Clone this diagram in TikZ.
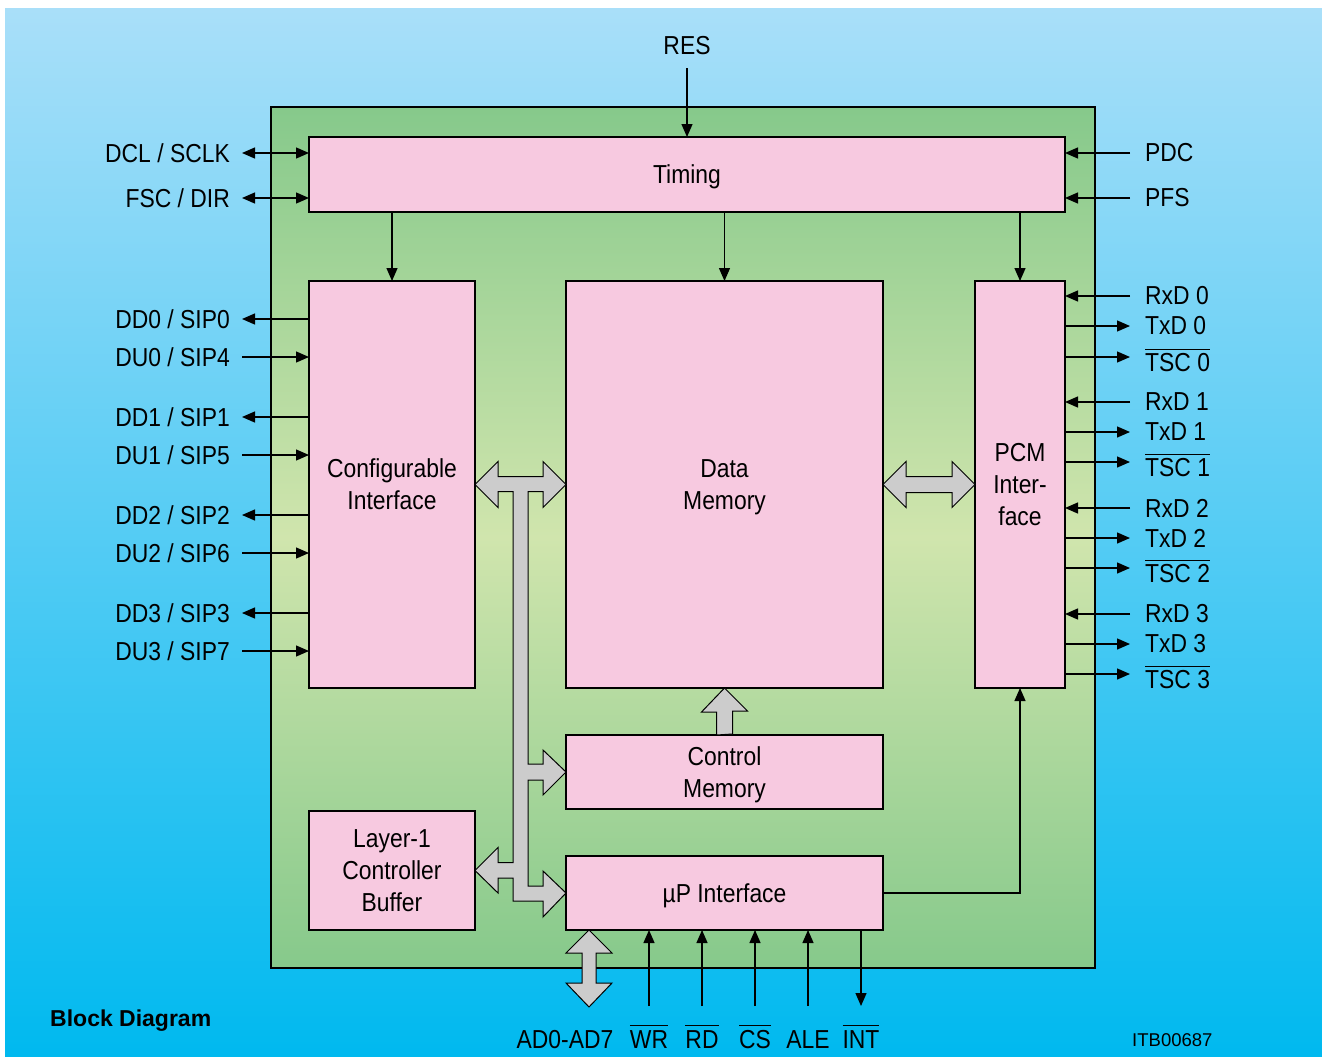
\documentclass[tikz,border=0pt]{standalone}
\usepackage{fontspec}
\setmainfont{Liberation Sans}[FakeStretch=0.88]
\newfontfamily\widesans{Liberation Sans}
\usetikzlibrary{arrows.meta,positioning,calc}
\definecolor{skytop}{HTML}{A9DFF9}
\definecolor{skybot}{HTML}{00B9EF}
\definecolor{chipedge}{HTML}{86C98B}
\definecolor{chipmid}{HTML}{D0E5AD}
\definecolor{blkpink}{HTML}{F7C9E0}
\definecolor{busgray}{HTML}{CCCCCC}
\newcommand{\ovl}[1]{\vbox{\hrule height 1.2pt\kern 4pt\hbox{#1}}}
\newcommand{\tscstrut}{\rule{0pt}{30pt}}

\begin{document}
\begin{tikzpicture}[x=1pt, y=-1pt,
    blk/.style={draw, line width=2.6pt, fill=blkpink, align=center, inner sep=0pt, outer sep=0pt, text depth=0pt},
    sig/.style={inner sep=0pt},
    arr/.style={-{Triangle[length=13pt,width=11pt]}, line width=1.3pt},
    biarr/.style={{Triangle[length=13pt,width=11pt]}-{Triangle[length=13pt,width=11pt]}, line width=1.3pt},
    bus/.style={draw, line width=1pt, fill=busgray, line join=miter},
    font=\fontsize{26}{32}\selectfont
]
\useasboundingbox (0,0) rectangle (1322,1057);
\fill[white] (0,0) rectangle (1322,1057);
\shade[top color=skytop, bottom color=skybot] (5,9) rectangle (1322,1057);

% chip
\node[draw, line width=2.6pt, outer sep=0pt, minimum width=824pt, minimum height=861pt,
  top color=chipedge, bottom color=chipedge, middle color=chipmid] (chip) at (683,537.5) {};

% blocks
\node[blk, minimum width=756, minimum height=75] (timing) at (687,174.5) {Timing};
\node[blk, minimum width=166, minimum height=407] (cfg) at (392,484.5) {Configurable\\Interface};
\node[blk, minimum width=317, minimum height=407] (dmem) at (724.5,484.5) {Data\\Memory};
\node[blk, minimum width=90, minimum height=407] (pcm) at (1020,484.5) {PCM\\Inter-\\face};
\node[blk, minimum width=317, minimum height=74] (cmem) at (724.5,772) {Control\\Memory};
\node[blk, minimum width=166, minimum height=119] (lbuf) at (392,870.5) {Layer-1\\Controller\\Buffer};
\node[blk, minimum width=317, minimum height=74] (upif) at (724.5,893) {µP Interface};

% timing signals
\node[sig, anchor=base] (res) at (687,55) {RES};
\node[sig, anchor=east] (dcl) at (230,153) {DCL / SCLK};
\node[sig, anchor=east] (fsc) at (230,198) {FSC / DIR};
\node[sig, anchor=west] (pdc) at (1145,153) {PDC};
\node[sig, anchor=west] (pfs) at (1145,198) {PFS};

\draw[arr] ([yshift=-13pt]res.south) -- (timing.north);
\draw[biarr] ([xshift=12pt]dcl.east) -- (timing.west |- dcl.east);
\draw[biarr] ([xshift=12pt]fsc.east) -- (timing.west |- fsc.east);
\draw[arr] ([xshift=-15pt]pdc.west) -- (timing.east |- pdc.west);
\draw[arr] ([xshift=-15pt]pfs.west) -- (timing.east |- pfs.west);

\draw[arr] (timing.south -| cfg.north) -- (cfg.north);
\draw[arr] (timing.south -| dmem.north) -- (dmem.north);
\draw[arr] (timing.south -| pcm.north) -- (pcm.north);

% configurable interface lines
\node[sig, anchor=east] (dd0) at (230,319) {DD0 / SIP0};
\node[sig, anchor=east] (du0) at (230,357) {DU0 / SIP4};
\node[sig, anchor=east] (dd1) at (230,417) {DD1 / SIP1};
\node[sig, anchor=east] (du1) at (230,455) {DU1 / SIP5};
\node[sig, anchor=east] (dd2) at (230,515) {DD2 / SIP2};
\node[sig, anchor=east] (du2) at (230,553) {DU2 / SIP6};
\node[sig, anchor=east] (dd3) at (230,613) {DD3 / SIP3};
\node[sig, anchor=east] (du3) at (230,651) {DU3 / SIP7};

\draw[arr] (cfg.west |- dd0.east) -- ([xshift=12pt]dd0.east);
\draw[arr] ([xshift=12pt]du0.east) -- (cfg.west |- du0.east);
\draw[arr] (cfg.west |- dd1.east) -- ([xshift=12pt]dd1.east);
\draw[arr] ([xshift=12pt]du1.east) -- (cfg.west |- du1.east);
\draw[arr] (cfg.west |- dd2.east) -- ([xshift=12pt]dd2.east);
\draw[arr] ([xshift=12pt]du2.east) -- (cfg.west |- du2.east);
\draw[arr] (cfg.west |- dd3.east) -- ([xshift=12pt]dd3.east);
\draw[arr] ([xshift=12pt]du3.east) -- (cfg.west |- du3.east);

% PCM lines
\node[sig, anchor=west] (rx0) at (1145,296) {RxD 0};
\node[sig, anchor=west] (tx0) at (1145,326) {TxD 0};
\node[sig, anchor=west] (ts0) at (1145,357) {\tscstrut\ovl{TSC 0}};
\node[sig, anchor=west] (rx1) at (1145,402) {RxD 1};
\node[sig, anchor=west] (tx1) at (1145,432) {TxD 1};
\node[sig, anchor=west] (ts1) at (1145,462) {\tscstrut\ovl{TSC 1}};
\node[sig, anchor=west] (rx2) at (1145,508) {RxD 2};
\node[sig, anchor=west] (tx2) at (1145,538) {TxD 2};
\node[sig, anchor=west] (ts2) at (1145,568) {\tscstrut\ovl{TSC 2}};
\node[sig, anchor=west] (rx3) at (1145,614) {RxD 3};
\node[sig, anchor=west] (tx3) at (1145,644) {TxD 3};
\node[sig, anchor=west] (ts3) at (1145,674) {\tscstrut\ovl{TSC 3}};

\draw[arr] ([xshift=-15pt]rx0.west) -- (pcm.east |- rx0.west);
\draw[arr] (pcm.east |- tx0.west) -- ([xshift=-15pt]tx0.west);
\draw[arr] (pcm.east |- ts0.west) -- ([xshift=-15pt]ts0.west);
\draw[arr] ([xshift=-15pt]rx1.west) -- (pcm.east |- rx1.west);
\draw[arr] (pcm.east |- tx1.west) -- ([xshift=-15pt]tx1.west);
\draw[arr] (pcm.east |- ts1.west) -- ([xshift=-15pt]ts1.west);
\draw[arr] ([xshift=-15pt]rx2.west) -- (pcm.east |- rx2.west);
\draw[arr] (pcm.east |- tx2.west) -- ([xshift=-15pt]tx2.west);
\draw[arr] (pcm.east |- ts2.west) -- ([xshift=-15pt]ts2.west);
\draw[arr] ([xshift=-15pt]rx3.west) -- (pcm.east |- rx3.west);
\draw[arr] (pcm.east |- tx3.west) -- ([xshift=-15pt]tx3.west);
\draw[arr] (pcm.east |- ts3.west) -- ([xshift=-15pt]ts3.west);

% internal buses
\draw[bus] (cfg.east) -- ++(23,-23) -- ++(0,15) -- ++(45,0) -- ++(0,-15) -- (dmem.west)
  -- ++(-23,23) -- ++(0,-16) -- ++(-15,0)
  -- ([xshift=-38pt,yshift=8pt]cmem.west) -- ++(15,0) -- ++(0,-14) -- (cmem.west)
  -- ++(-23,23) -- ++(0,-15) -- ++(-15,0)
  -- ([xshift=-38pt,yshift=7pt]upif.west) -- ++(15,0) -- ++(0,-15) -- (upif.west)
  -- ++(-23,24) -- ++(0,-16) -- ++(-30,0) -- ++(0,-23) -- ++(-15,0) -- ++(0,15) -- (lbuf.east)
  -- ++(23,-23) -- ++(0,15) -- ++(15,0)
  -- ([xshift=-53pt,yshift=-7pt]dmem.west) -- ++(-15,0) -- ++(0,16) -- cycle;
\draw[bus] (dmem.east) -- ++(23,-23) -- ++(0,15) -- ++(46,0) -- ++(0,-15) -- (pcm.west)
  -- ++(-23,23) -- ++(0,-15) -- ++(-46,0) -- ++(0,15) -- cycle;
\draw[bus] (cmem.north) ++(-8,0) -- ++(0,-23) -- ++(-15,0) -- (dmem.south)
  -- ++(23,23) -- ++(-15,0) -- ++(0,23) -- cycle;

\draw[arr] (upif.east) -| (pcm.south);

% microprocessor side
\coordinate (sigrow) at (0,1006);
\coordinate (adbus) at (589,1007);
\node[sig, anchor=base] (adr) at (565,1048) {AD0-AD7};
\node[sig, anchor=base] (wr) at (649,1048) {\ovl{WR}};
\node[sig, anchor=base] (rd) at (702,1048) {\ovl{RD}};
\node[sig, anchor=base] (cs) at (755,1048) {\ovl{CS}};
\node[sig, anchor=base] (ale) at (808,1048) {ALE};
\node[sig, anchor=base] (int) at (861,1048) {\ovl{INT}};

\draw[bus] (upif.south -| adbus) -- ++(23,23) -- ++(-16,0) -- ++(0,30) -- ++(16,0) -- (adbus)
  -- ++(-23,-24) -- ++(16,0) -- ++(0,-30) -- ++(-16,0) -- cycle;
\draw[arr] (wr |- sigrow) -- (wr |- upif.south);
\draw[arr] (rd |- sigrow) -- (rd |- upif.south);
\draw[arr] (cs |- sigrow) -- (cs |- upif.south);
\draw[arr] (ale |- sigrow) -- (ale |- upif.south);
\draw[arr] (int |- upif.south) -- (int |- sigrow);

\node[anchor=base west, inner sep=0pt, font=\widesans\bfseries\fontsize{23}{28}\selectfont] (title) at (50,1026) {Block Diagram};
\node[anchor=base west, inner sep=0pt, font=\widesans\fontsize{18.5}{22}\selectfont] (itb) at (1132,1046) {ITB00687};
\end{tikzpicture}
\end{document}
